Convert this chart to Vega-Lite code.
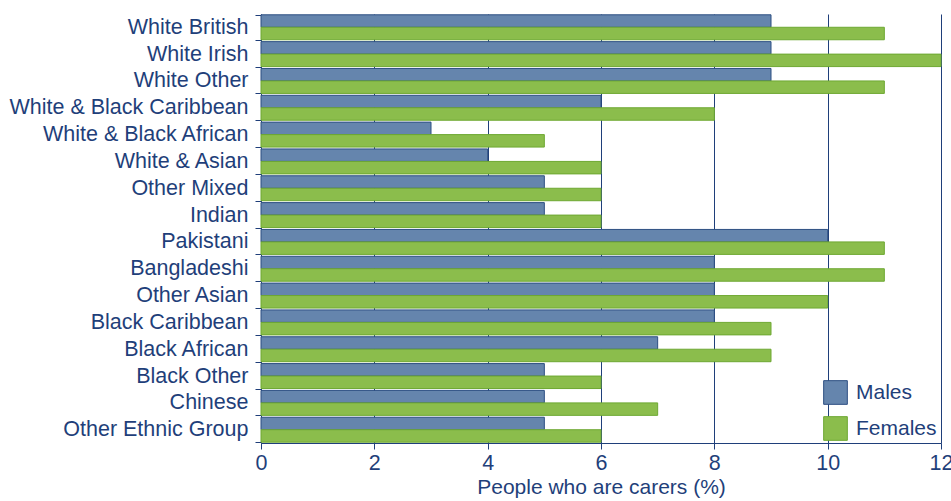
{
  "$schema": "https://vega.github.io/schema/vega-lite/v6.json",
  "width": 680,
  "height": 429,
  "autosize": {"type": "none"},
  "padding": {"left": 261, "top": 14, "right": 10, "bottom": 58},
  "background": "white",
  "config": {
    "view": {"stroke": null},
    "font": "Liberation Sans",
    "axis": {"labelColor": "#1f3f7a", "titleColor": "#1f3f7a", "domainColor": "#1f3f7a", "tickColor": "#1f3f7a", "labelFontSize": 21.5, "titleFontSize": 21, "titleFontWeight": "normal"}
  },
  "data": {"values": [
    {"group": "White British", "sex": "Males", "pct": 9}, {"group": "White British", "sex": "Females", "pct": 11},
    {"group": "White Irish", "sex": "Males", "pct": 9}, {"group": "White Irish", "sex": "Females", "pct": 12},
    {"group": "White Other", "sex": "Males", "pct": 9}, {"group": "White Other", "sex": "Females", "pct": 11},
    {"group": "White & Black Caribbean", "sex": "Males", "pct": 6}, {"group": "White & Black Caribbean", "sex": "Females", "pct": 8},
    {"group": "White & Black African", "sex": "Males", "pct": 3}, {"group": "White & Black African", "sex": "Females", "pct": 5},
    {"group": "White & Asian", "sex": "Males", "pct": 4}, {"group": "White & Asian", "sex": "Females", "pct": 6},
    {"group": "Other Mixed", "sex": "Males", "pct": 5}, {"group": "Other Mixed", "sex": "Females", "pct": 6},
    {"group": "Indian", "sex": "Males", "pct": 5}, {"group": "Indian", "sex": "Females", "pct": 6},
    {"group": "Pakistani", "sex": "Males", "pct": 10}, {"group": "Pakistani", "sex": "Females", "pct": 11},
    {"group": "Bangladeshi", "sex": "Males", "pct": 8}, {"group": "Bangladeshi", "sex": "Females", "pct": 11},
    {"group": "Other Asian", "sex": "Males", "pct": 8}, {"group": "Other Asian", "sex": "Females", "pct": 10},
    {"group": "Black Caribbean", "sex": "Males", "pct": 8}, {"group": "Black Caribbean", "sex": "Females", "pct": 9},
    {"group": "Black African", "sex": "Males", "pct": 7}, {"group": "Black African", "sex": "Females", "pct": 9},
    {"group": "Black Other", "sex": "Males", "pct": 5}, {"group": "Black Other", "sex": "Females", "pct": 6},
    {"group": "Chinese", "sex": "Males", "pct": 5}, {"group": "Chinese", "sex": "Females", "pct": 7},
    {"group": "Other Ethnic Group", "sex": "Males", "pct": 5}, {"group": "Other Ethnic Group", "sex": "Females", "pct": 6}
  ]},
  "mark": {"type": "bar", "strokeWidth": 1},
  "encoding": {
    "y": {
      "field": "group", "type": "nominal", "sort": null,
      "scale": {"paddingInner": 0.07, "paddingOuter": 0.03},
      "axis": {"title": null, "tickBand": "extent", "tickSize": 6, "labelPadding": 7, "labelLimit": 300}
    },
    "yOffset": {"field": "sex", "type": "nominal", "sort": ["Males", "Females"]},
    "x": {
      "field": "pct", "type": "quantitative",
      "scale": {"domain": [0, 12], "nice": false},
      "axis": {"title": "People who are carers (%)", "values": [0, 2, 4, 6, 8, 10, 12], "labelOverlap": false, "labelFlush": false, "grid": true, "gridColor": "#1f3f7a", "gridOpacity": 1, "tickSize": 6, "labelPadding": 3, "titlePadding": 3}
    },
    "color": {
      "field": "sex", "type": "nominal",
      "scale": {"domain": ["Males", "Females"], "range": ["#6585ad", "#8bbd4c"]},
      "legend": {"title": null, "orient": "none", "legendX": 562, "legendY": 366, "symbolType": "square", "symbolSize": 560, "symbolStrokeWidth": 1, "labelFontSize": 21, "labelColor": "#1f3f7a", "rowPadding": 7, "labelOffset": 8}
    },
    "stroke": {
      "field": "sex", "type": "nominal",
      "scale": {"domain": ["Males", "Females"], "range": ["#2d4f82", "#6ea832"]},
      "legend": null
    }
  }
}
